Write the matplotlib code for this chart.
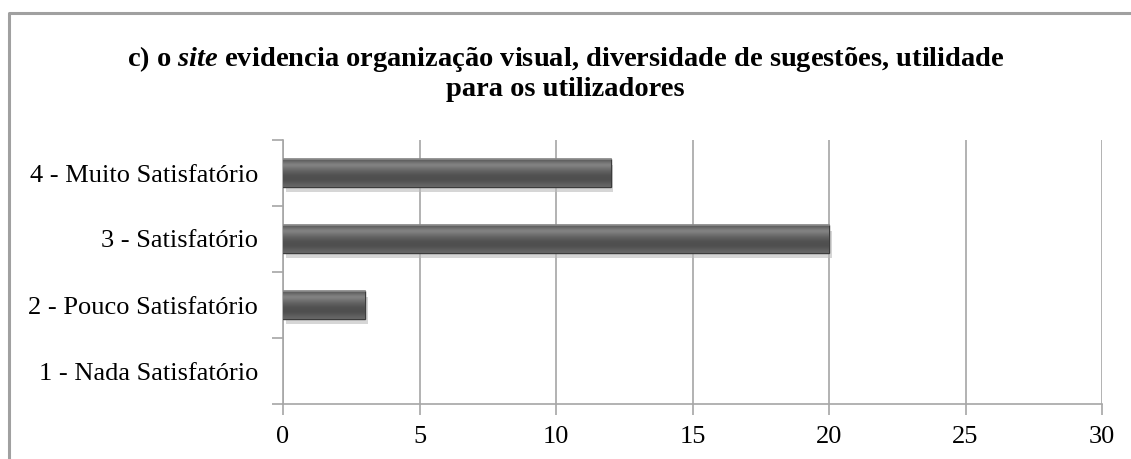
import matplotlib
matplotlib.use("Agg")
import numpy as np
import matplotlib.pyplot as plt
import matplotlib.patheffects as pe
from matplotlib.lines import Line2D

categories = ["1 - Nada Satisfatório", "2 - Pouco Satisfatório",
              "3 - Satisfatório", "4 - Muito Satisfatório"]
values = [0, 3, 20, 12]
xticks = [0, 5, 10, 15, 20, 25, 30]

GRID = "#a6a6a6"
plt.rcParams["font.family"] = ["Liberation Serif", "DejaVu Serif"]
plt.rcParams["mathtext.fontset"] = "custom"
plt.rcParams["mathtext.it"] = "Liberation Serif:italic:bold"
plt.rcParams["mathtext.rm"] = "Liberation Serif:bold"

fig = plt.figure(figsize=(11.31, 4.59), dpi=100)
ax = fig.add_axes([283 / 1131, 1 - 404 / 459, 819 / 1131, 264 / 459])

# outer chart frame (top and left edges visible)
fig.add_artist(Line2D([9 / 1131, 9 / 1131, 1.0], [0.0, 1 - 13 / 459, 1 - 13 / 459],
                      transform=fig.transFigure, color="#a0a0a0", lw=2.2))

ypos = list(range(len(categories)))
bars = ax.barh(ypos, values, height=0.42, color="#555555",
               edgecolor="#3c3c3c", linewidth=1.0, zorder=3)

# vertical shading to mimic the bevelled bars
shade = np.array([0.40, 0.38, 0.35, 0.32, 0.31, 0.31, 0.32, 0.34, 0.37, 0.40,
                  0.44, 0.48, 0.52, 0.48, 0.42, 0.36])[:, None]
for b in bars:
    if b.get_width() <= 0:
        b.set_visible(False)
        continue
    b.set_path_effects([pe.SimplePatchShadow(offset=(2, -4), shadow_rgbFace="#bbbbbb",
                                             alpha=0.6), pe.Normal()])
    x0, y0, w, h = b.get_x(), b.get_y(), b.get_width(), b.get_height()
    im = ax.imshow(shade, cmap="gray", vmin=0, vmax=1, aspect="auto",
                   extent=(x0, x0 + w, y0, y0 + h), origin="lower",
                   interpolation="bicubic", zorder=3.5)
    im.set_clip_path(b)
    ax.plot([x0, x0 + w], [y0 + h, y0 + h], color="#8c8c8c", lw=1.2, zorder=4)

ax.set_xlim(0, 30)
ax.set_ylim(-0.5, len(categories) - 0.5)
ax.set_xticks(xticks)
ax.set_xticklabels([str(t) for t in xticks], fontsize=19)
ax.set_yticks(ypos)
ax.set_yticklabels(categories, fontsize=19)
ax.tick_params(axis="y", length=0, pad=18)
ax.tick_params(axis="x", length=8, color=GRID, width=1.2, pad=8)
ax.set_yticks([i - 0.5 for i in range(len(categories) + 1)], minor=True)
ax.tick_params(axis="y", which="minor", length=8, color=GRID, width=1.2)

ax.grid(axis="x", color=GRID, lw=1.2, zorder=0)
for s in ["top", "right"]:
    ax.spines[s].set_visible(False)
for s in ["left", "bottom"]:
    ax.spines[s].set_color(GRID)
    ax.spines[s].set_linewidth(1.2)

fig.text(0.5, 1 - 59 / 459, "c) o $\\it{site}$ evidencia organização visual, diversidade de sugestões, utilidade",
         ha="center", va="center", fontsize=20.5, fontweight="bold")
fig.text(0.5, 1 - 89 / 459, "para os utilizadores",
         ha="center", va="center", fontsize=20.5, fontweight="bold")

fig.savefig("out.png", dpi=100, facecolor="white")
